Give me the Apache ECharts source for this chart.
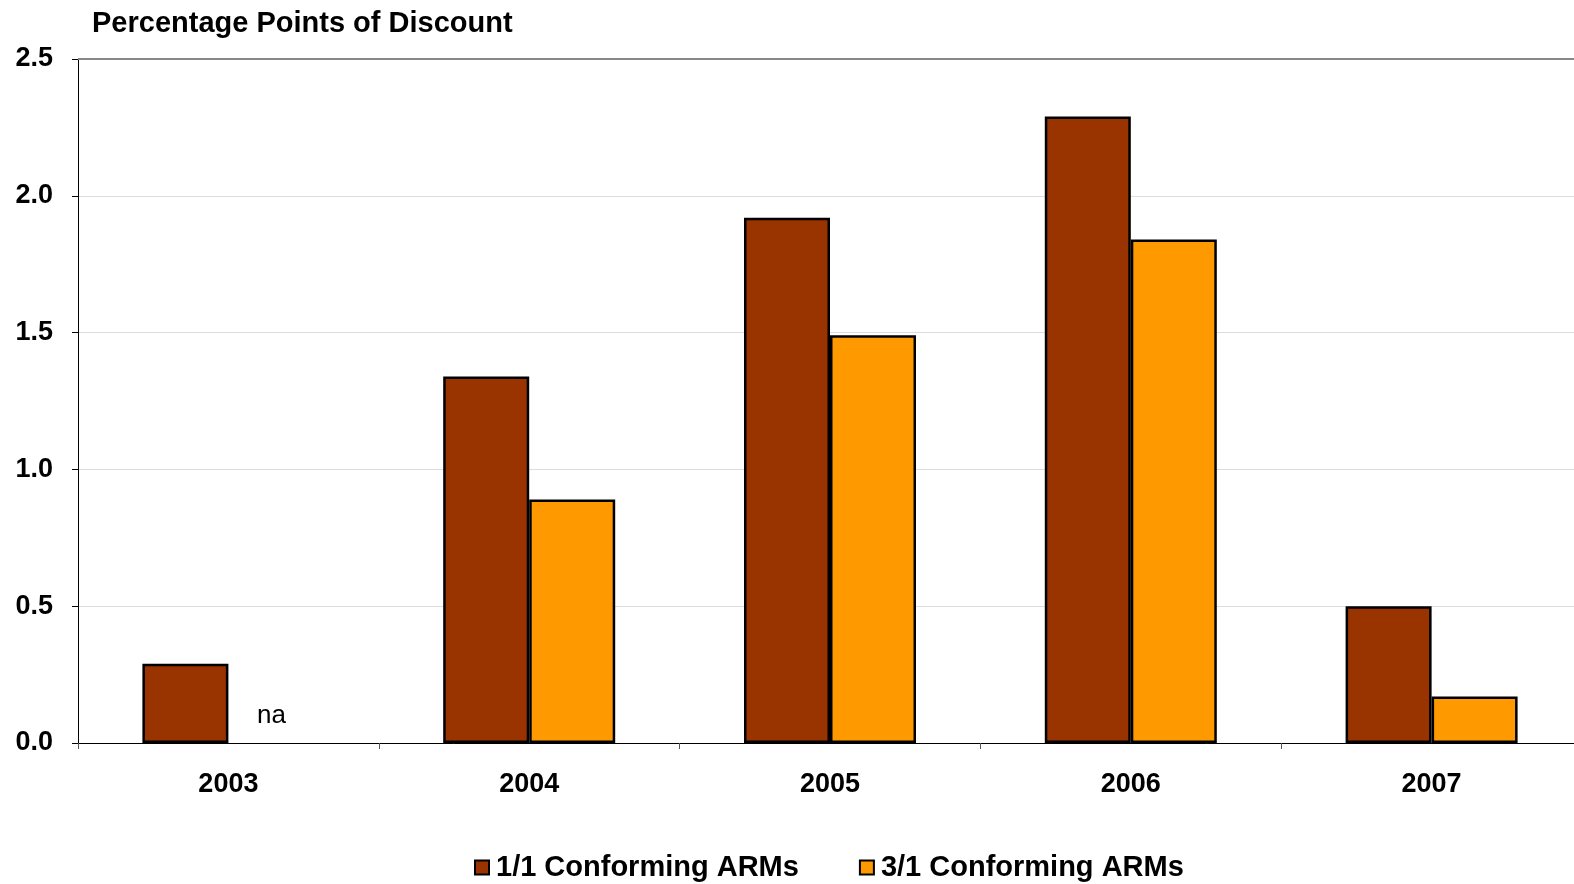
<!DOCTYPE html>
<html>
<head>
<meta charset="utf-8">
<script src="https://cdn.jsdelivr.net/npm/echarts@6/dist/echarts.min.js"></script>
<style>
html,body{margin:0;padding:0;background:#fff;overflow:hidden;width:1574px;height:884px;}
#main{width:1600px;height:884px;}
</style>
</head>
<body>
<div id="main"></div>
<script>
const categories = ['2003', '2004', '2005', '2006', '2007'];
const arm11 = [0.29, 1.34, 1.92, 2.29, 0.50];
const arm31 = [null, 0.89, 1.49, 1.84, 0.17];
const missingLabel = 'na';
const yTicks = [0, 0.5, 1.0, 1.5, 2.0, 2.5];

const chart = echarts.init(document.getElementById('main'));
const fontFam = '"Liberation Sans", Arial, sans-serif';

const arm31Data = arm31.map(v => v === null
  ? { value: 0, itemStyle: { borderWidth: 0, color: 'rgba(0,0,0,0)', borderColor: 'rgba(0,0,0,0)' },
      label: { show: true, position: 'top', distance: 14, formatter: missingLabel,
               fontFamily: fontFam, fontSize: 26, color: '#000', fontWeight: 'normal' } }
  : v);

chart.setOption({
  animation: false,
  backgroundColor: '#fff',
  title: {
    text: 'Percentage Points of Discount',
    left: 87, top: 4,
    textStyle: { fontFamily: fontFam, fontSize: 29, fontWeight: 'bold', color: '#000' }
  },
  legend: {
    top: 848, left: 469,
    icon: 'rect',
    itemWidth: 14, itemHeight: 14, itemGap: 60,
    textStyle: { fontFamily: fontFam, fontSize: 29, fontWeight: 'bold', color: '#000', padding: [0,0,0,2] },
    data: [
      { name: '1/1 Conforming ARMs', itemStyle: { borderColor: '#000', borderWidth: 2 } },
      { name: '3/1 Conforming ARMs', itemStyle: { borderColor: '#000', borderWidth: 2 } }
    ]
  },
  grid: { left: 78, top: 59, width: 1504, bottom: 141, containLabel: false },
  xAxis: {
    type: 'category',
    data: categories,
    axisLine: { lineStyle: { color: '#000', width: 1 } },
    axisTick: { show: true, alignWithLabel: false, length: 6, lineStyle: { color: '#555' } },
    axisLabel: { fontFamily: fontFam, fontSize: 27, fontWeight: 'bold', color: '#000', margin: 28 }
  },
  yAxis: {
    type: 'value',
    min: yTicks[0], max: yTicks[yTicks.length - 1], interval: 0.5,
    axisLine: { show: true, lineStyle: { color: '#000', width: 1 } },
    axisTick: { show: true, length: 6, lineStyle: { color: '#000' } },
    axisLabel: { fontFamily: fontFam, fontSize: 27, fontWeight: 'bold', color: '#000', margin: 25,
                 formatter: v => v.toFixed(1) },
    splitLine: { show: true, lineStyle: { color: '#dddddd', width: 1 } }
  },
  series: [
    {
      name: '1/1 Conforming ARMs', type: 'bar',
      data: arm11, barWidth: 86, barGap: '0%',
      itemStyle: { color: '#993300', borderColor: '#000', borderWidth: 2.5 },
      markLine: {
        silent: true, symbol: 'none', label: { show: false },
        lineStyle: { color: '#888', width: 2, type: 'solid' },
        data: [{ yAxis: yTicks[yTicks.length - 1] }]
      }
    },
    {
      name: '3/1 Conforming ARMs', type: 'bar',
      data: arm31Data, barWidth: 86, barGap: '0%',
      itemStyle: { color: '#FF9900', borderColor: '#000', borderWidth: 2.5 }
    }
  ]
});
</script>
</body>
</html>
